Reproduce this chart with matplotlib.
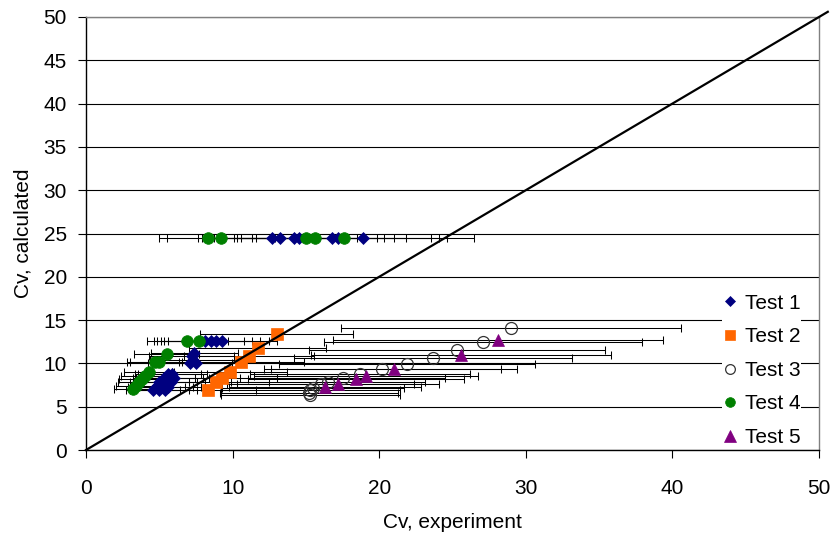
import matplotlib
matplotlib.use("Agg")
import matplotlib.pyplot as plt
from matplotlib.lines import Line2D
import numpy as np

plt.rcParams['font.family'] = ['Liberation Sans', 'DejaVu Sans']
plt.rcParams['font.size'] = 15

# Relative uncertainty of the experimental Cv values (±40 %)
REL_UNCERTAINTY = 0.4

# Test 1
test1_x = [12.7, 13.2, 14.2, 14.5, 16.8, 17.2, 18.9,
           8.1, 8.5, 8.9, 9.3,
           7.4, 7.2, 7.3, 7.1, 7.5,
           4.6, 5.0, 5.4, 4.8, 5.2, 5.6, 5.0, 5.4, 5.8, 5.3, 5.7, 6.0, 5.6, 5.9]
test1_y = [24.5, 24.5, 24.5, 24.5, 24.5, 24.5, 24.5,
           12.6, 12.6, 12.6, 12.6,
           11.2, 10.8, 10.4, 10.0, 10.1,
           6.9, 6.9, 6.9, 7.3, 7.3, 7.3, 7.8, 7.8, 7.8, 8.3, 8.3, 8.3, 8.8, 8.8]

# Test 2
test2_x = [8.3, 8.9, 9.3, 9.8, 10.6, 11.1, 11.7, 13.0]
test2_y = [6.9, 7.8, 8.3, 9.0, 10.2, 10.8, 11.8, 13.4]

# Test 3
test3_x = [29.0, 27.1, 25.3, 23.7, 21.9, 20.2, 18.7, 17.5, 16.5, 16.0, 15.5, 15.3, 15.2, 15.3]
test3_y = [14.1, 12.5, 11.5, 10.6, 9.9, 9.4, 8.8, 8.3, 7.8, 7.6, 7.2, 6.9, 6.6, 6.3]

# Test 4
test4_x = [8.3, 9.2, 15.0, 15.6, 17.6,
           6.9, 7.7,
           5.5, 4.7, 5.0,
           4.3, 4.0, 3.8, 3.6, 3.4, 3.2]
test4_y = [24.5, 24.5, 24.5, 24.5, 24.5,
           12.6, 12.6,
           11.1, 10.2, 10.2,
           9.0, 8.6, 8.2, 7.8, 7.4, 7.0]

# Test 5
test5_x = [16.3, 17.2, 18.4, 19.1, 21.0, 25.6, 28.1]
test5_y = [7.3, 7.6, 8.2, 8.6, 9.4, 11.0, 12.7]

# Line of perfect agreement
ideal = [0, 50.6]

x_ticks = [0, 10, 20, 30, 40, 50]
y_ticks = [0, 5, 10, 15, 20, 25, 30, 35, 40, 45, 50]

series = [
    ("Test 1", test1_x, test1_y, dict(marker='D', ms=6.6, mfc='#000080', mec='#000080', mew=0.5)),
    ("Test 2", test2_x, test2_y, dict(marker='s', ms=8.2, mfc='#FF6600', mec='#FF6600', mew=0.5)),
    ("Test 3", test3_x, test3_y, dict(marker='o', ms=8.6, mfc='none', mec='#333333', mew=0.9)),
    ("Test 4", test4_x, test4_y, dict(marker='o', ms=8.4, mfc='#008000', mec='#008000', mew=0.5)),
    ("Test 5", test5_x, test5_y, dict(marker='^', ms=9.0, mfc='#800080', mec='#800080', mew=0.5)),
]
legend_ms = [5.6, 7.0, 7.0, 7.0, 8.0]

fig = plt.figure(figsize=(8.33, 5.35), dpi=100)
ax = fig.add_axes([86 / 833, 85 / 535, 733 / 833, 433 / 535])

# horizontal uncertainty bars first, markers on top
for name, xs, ys, style in series:
    xs = np.asarray(xs)
    ax.errorbar(xs, ys, xerr=REL_UNCERTAINTY * xs, fmt='none', ecolor='black',
                elinewidth=0.75, capsize=2.9, capthick=0.75, zorder=2)

for name, xs, ys, style in series:
    ax.plot(xs, ys, linestyle='none', zorder=3, **style)

ax.plot(ideal, ideal, color='black', lw=1.6, zorder=4, clip_on=False)

ax.set_xlim(0, 50)
ax.set_ylim(0, 50)
ax.set_xticks(x_ticks)
ax.set_yticks(y_ticks)
ax.tick_params(direction='out', length=5.8, width=0.8, color='black', labelsize=15)
ax.tick_params(axis='x', pad=15)
ax.tick_params(axis='y', pad=8)

ax.set_axisbelow(True)
ax.grid(axis='y', color='black', lw=0.8)
for side in ('left', 'bottom'):
    ax.spines[side].set_color('black')
    ax.spines[side].set_linewidth(1.0)
for side in ('top', 'right'):
    ax.spines[side].set_color('#808080')
    ax.spines[side].set_linewidth(1.0)

ax.set_xlabel('Cv, experiment', fontsize=15, labelpad=11)
ax.set_ylabel('Cv, calculated', fontsize=15, labelpad=8)

handles = []
for (_, _, _, style), lms in zip(series, legend_ms):
    st = dict(style)
    st['ms'] = lms
    handles.append(Line2D([], [], linestyle='none', **st))
labels = [name for name, _, _, _ in series]
leg = ax.legend(handles, labels, loc='lower left', bbox_to_anchor=(636 / 733, 3 / 433),
                frameon=True, fancybox=False, framealpha=1, facecolor='white',
                edgecolor='none', fontsize=15, borderpad=0.0, handletextpad=0.3,
                handlelength=0.8, labelspacing=0.7, borderaxespad=0)
leg.set_zorder(6)

fig.savefig('out.png', dpi=100)
